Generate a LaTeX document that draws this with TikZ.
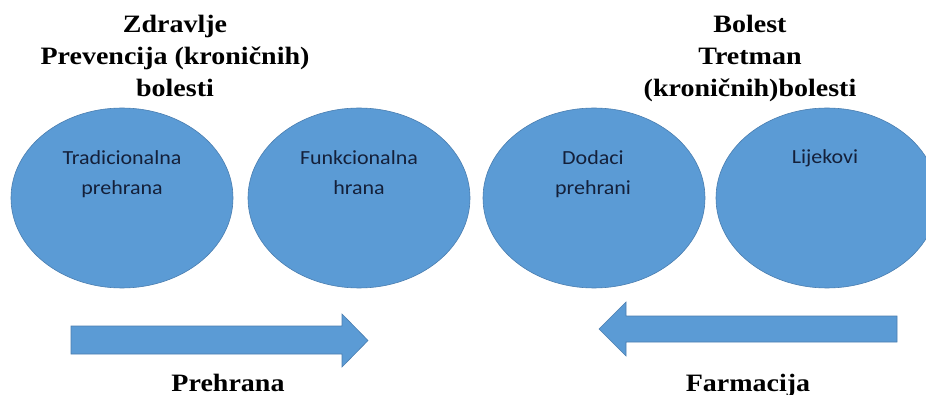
\documentclass[tikz,border=0pt]{standalone}
\usepackage{fontspec}
\setmainfont{Liberation Serif}
\newfontfamily\ttlfont[FakeStretch=1.12]{Liberation Serif}
\newfontfamily\lblfont[FakeStretch=1.1]{Carlito}
\usetikzlibrary{shapes.geometric}
\definecolor{ovalblue}{HTML}{5B9BD5}
\definecolor{ovaledge}{HTML}{4A7EB0}
\definecolor{lbltext}{HTML}{14203A}
\begin{document}
\begin{tikzpicture}[x=1pt,y=-1pt,
  oval/.style={ellipse, fill=ovalblue, draw=ovaledge, line width=0.6pt,
    minimum width=222pt, minimum height=180pt, inner sep=0pt},
  ovaltext/.style={font=\lblfont\fontsize{20}{24}\selectfont, text=lbltext,
    anchor=base, inner sep=0pt},
  ttl/.style={font=\ttlfont\bfseries\fontsize{25}{30}\selectfont,
    anchor=base, inner sep=0pt},
  blockarrow/.style={fill=ovalblue, draw=ovaledge, line width=0.6pt}]
\useasboundingbox (0,0) rectangle (926,395);
\clip (0,0) rectangle (926,395);

% titles
\node[ttl] (tl1) at (175,33) {Zdravlje};
\node[ttl] (tl2) at (175,65) {Prevencija (kroničnih)};
\node[ttl] (tl3) at (175,97) {bolesti};
\node[ttl] (tr1) at (750,33) {Bolest};
\node[ttl] (tr2) at (750,65) {Tretman};
\node[ttl] (tr3) at (750,97) {(kroničnih)bolesti};

% ellipses
\node[oval] (e1) at (122,198) {};
\node[oval] (e2) at (359,198) {};
\node[oval] (e3) at (594,198) {};
\node[oval] (e4) at (827,198) {};

\node[ovaltext] (e1a) at (122,165) {Tradicionalna};
\node[ovaltext] (e1b) at (122,195) {prehrana};
\node[ovaltext] (e2a) at (359,165) {Funkcionalna};
\node[ovaltext] (e2b) at (359,195) {hrana};
\node[ovaltext] (e3a) at (593,165) {Dodaci};
\node[ovaltext] (e3b) at (593,195) {prehrani};
\node[ovaltext] (e4a) at (825,164) {Lijekovi};

% block arrows
\draw[blockarrow] (71,326) -- (342,326) -- (342,314) -- (368,340.5)
  -- (342,367) -- (342,354) -- (71,354) -- cycle;
\draw[blockarrow] (897,316) -- (626,316) -- (626,302) -- (599,329)
  -- (626,356) -- (626,342) -- (897,342) -- cycle;

% bottom labels
\node[ttl] (bl) at (228,391) {Prehrana};
\node[ttl] (br) at (748,391) {Farmacija};
\end{tikzpicture}
\end{document}
